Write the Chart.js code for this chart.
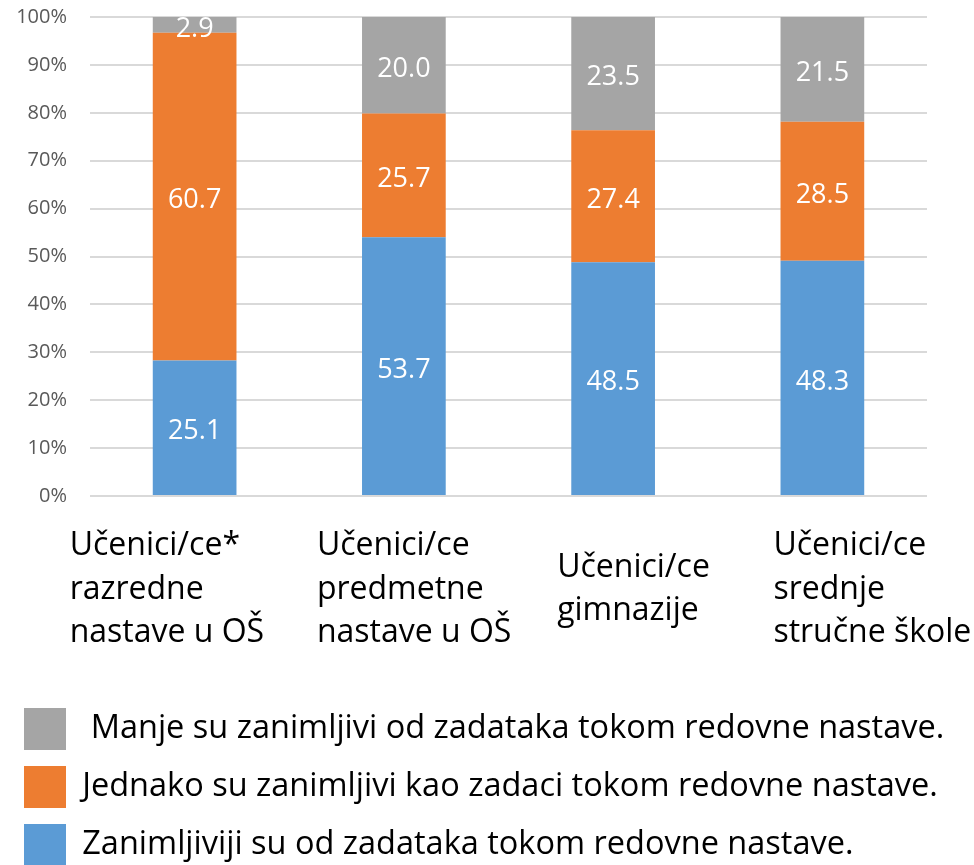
<!DOCTYPE html>
<html>
<head>
<meta charset="utf-8">
<script src="https://cdn.jsdelivr.net/npm/chart.js@4.4.1/dist/chart.umd.min.js"></script>
<style>
  html, body { margin: 0; padding: 0; background: #fff; }
  #wrap { width: 974px; height: 865px; }
</style>
</head>
<body>
<div id="wrap"><canvas id="chart" width="974" height="865"></canvas></div>
<script>
// categories (multi-line, as in the picture)
const categories = [
    ['Učenici/ce*', 'razredne', 'nastave u OŠ'],
    ['Učenici/ce', 'predmetne', 'nastave u OŠ'],
    ['Učenici/ce', 'gimnazije'],
    ['Učenici/ce', 'srednje', 'stručne škole']
];
const seriesNames = [
    'Zanimljiviji su od zadataka tokom redovne nastave.',
    'Jednako su zanimljivi kao zadaci tokom redovne nastave.',
    ' Manje su zanimljivi od zadataka tokom redovne nastave.'
];
const moreInteresting = [25.1, 53.7, 48.5, 48.3];
const equallyInteresting = [60.7, 25.7, 27.4, 28.5];
const lessInteresting = [2.9, 20.0, 23.5, 21.5];
const yTickValues = [0, 10, 20, 30, 40, 50, 60, 70, 80, 90, 100];

const colors = ['#5B9BD5', '#ED7D31', '#A5A5A5'];
const FONT = '"Open Sans", Lato, sans-serif';

// bars are stacked to 100% of each group's total, labels show raw values
const rawSeries = [moreInteresting, equallyInteresting, lessInteresting];
const totals = categories.map((c, i) => rawSeries.reduce((s, arr) => s + arr[i], 0));
const toPercent = arr => arr.map((v, i) => v / totals[i] * 100);

// x offsets of the left-aligned category labels from the bar centre
const labelShift = [-125, -87, -56, -49];

const dataLabels = {
    id: 'dataLabels',
    afterDatasetsDraw(chart) {
        const ctx = chart.ctx;
        ctx.save();
        ctx.font = '27px ' + FONT;
        ctx.fillStyle = '#ffffff';
        ctx.textAlign = 'center';
        ctx.textBaseline = 'middle';
        chart.data.datasets.forEach((ds, di) => {
            const meta = chart.getDatasetMeta(di);
            meta.data.forEach((bar, i) => {
                const y = (bar.y + bar.base) / 2;
                ctx.fillText(rawSeries[di][i].toFixed(1), bar.x, y + 4);
            });
        });
        ctx.restore();
    }
};

const categoryLabels = {
    id: 'categoryLabels',
    afterDraw(chart) {
        const ctx = chart.ctx;
        const xScale = chart.scales.x;
        const bottom = chart.chartArea.bottom;
        const lineH = 43.5;
        ctx.save();
        ctx.font = '32px ' + FONT;
        ctx.fillStyle = '#000000';
        ctx.textAlign = 'left';
        ctx.textBaseline = 'alphabetic';
        categories.forEach((lines, i) => {
            const x = xScale.getPixelForValue(i) + labelShift[i];
            const startY = bottom + 59 + (3 - lines.length) * lineH / 2;
            lines.forEach((line, j) => ctx.fillText(line, x, startY + j * lineH));
        });
        ctx.restore();
    }
};

new Chart(document.getElementById('chart'), {
    type: 'bar',
    data: {
        labels: categories.map(c => c.join(' ')),
        datasets: rawSeries.map((arr, i) => ({
            label: seriesNames[i],
            data: toPercent(arr),
            backgroundColor: colors[i],
            borderWidth: 0,
            barPercentage: 0.4,
            categoryPercentage: 1.0
        }))
    },
    options: {
        responsive: false,
        animation: false,
        layout: { padding: { left: 8, right: 0, top: 17, bottom: -11 } },
        scales: {
            x: {
                stacked: true,
                grid: { display: false },
                border: { display: false },
                ticks: { display: false },
                afterFit(scale) { scale.height = 196; }
            },
            y: {
                stacked: true,
                min: 0,
                max: 100,
                afterBuildTicks(scale) { scale.ticks = yTickValues.map(v => ({ value: v })); },
                afterFit(scale) { scale.width = 82; },
                grid: {
                    color: '#d9d9d9',
                    lineWidth: 2,
                    drawTicks: true,
                    tickLength: 23,
                    tickColor: 'rgba(0,0,0,0)'
                },
                border: { display: false },
                ticks: {
                    padding: 0,
                    color: '#595959',
                    font: { family: FONT, size: 20 },
                    callback: v => v + '%'
                }
            },
            // empty right-hand axis only keeps the plot clear of the right edge
            yRight: {
                position: 'right',
                grid: { display: false },
                border: { display: false },
                ticks: { display: false },
                afterFit(scale) { scale.width = 47; }
            }
        },
        plugins: {
            legend: {
                position: 'bottom',
                align: 'start',
                reverse: true,
                labels: {
                    boxWidth: 42,
                    boxHeight: 42,
                    padding: 16,
                    color: '#000000',
                    font: { family: FONT, size: 32.5 }
                }
            },
            tooltip: { enabled: false }
        }
    },
    plugins: [dataLabels, categoryLabels]
});
</script>
</body>
</html>
